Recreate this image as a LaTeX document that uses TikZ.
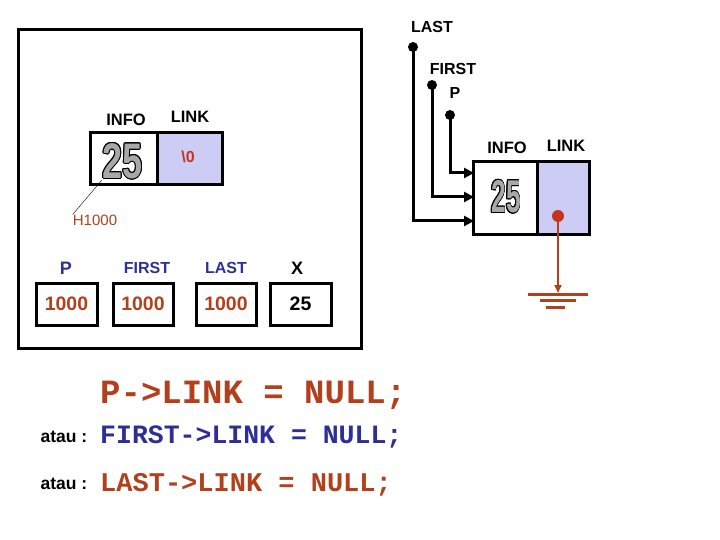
\documentclass[tikz,border=0pt]{standalone}
\usepackage{fontspec}
\setmainfont{Liberation Sans}
\newfontfamily\codefont{Liberation Mono}
\usepackage{contour}
\contourlength{0.9pt}
\usetikzlibrary{arrows.meta}
\definecolor{brn}{HTML}{B3401D}
\definecolor{blu}{HTML}{2E2E99}
\definecolor{lav}{HTML}{CCCCF5}
\definecolor{dotred}{HTML}{C8321E}
\definecolor{dgray}{HTML}{A8A8A8}
\tikzset{
  cell/.style={draw, line width=3pt, inner sep=0pt},
  lbl/.style={font=\fontsize{16}{18}\selectfont\bfseries, inner sep=0pt},
  val/.style={font=\fontsize{19.5}{21}\selectfont\bfseries, inner sep=0pt},
  big/.style={font=\fontsize{50}{50}\selectfont\bfseries, inner sep=0pt, xscale=0.72},
  pdot/.style={circle, fill=black, inner sep=0pt, minimum size=10pt},
  ptr/.style={line width=3pt, -{Triangle[length=10pt,width=10pt]}},
  code/.style={inner sep=0pt, anchor=west},
}
\begin{document}
\begin{tikzpicture}[x=1pt,y=-1pt]
\useasboundingbox[fill=white] (0,0) rectangle (720,540);

% memory frame
\draw[line width=3pt] (18,30) rectangle (361,348);

% left node
\node[cell, minimum width=67pt, minimum height=52pt] (linfo) at (123.5,159) {};
\node[cell, fill=lav, minimum width=65pt, minimum height=52pt] (llink) at (189.5,159) {};
\node[big, text=dgray] (l25) at (122.5,161.5) {\contour{black}{25}};
\node[lbl, text=dotred] (lnull) at (188,157) {\textbackslash 0};
\node[lbl, font=\fontsize{16.5}{18}\selectfont\bfseries] (linfolbl) at (126,120) {INFO};
\node[lbl, font=\fontsize{16.5}{18}\selectfont\bfseries] (llinklbl) at (190,117) {LINK};
\node[lbl, font=\fontsize{15}{17}\selectfont, text=brn] (h1000) at (95,220) {H1000};
\coordinate (haddr) at (102,180);
\draw[thin] (haddr) -- (h1000.north west);

% variables
\node[lbl, font=\fontsize{18}{20}\selectfont\bfseries, text=blu] (vP) at (66,268) {P};
\node[lbl, text=blu] (vF) at (147,268) {FIRST};
\node[lbl, text=blu] (vL) at (226,268) {LAST};
\node[lbl, font=\fontsize{18}{20}\selectfont\bfseries] (vX) at (297,268) {X};
\node[cell, val, text=brn, minimum width=61pt, minimum height=42pt] (bP) at (66.5,304) {1000};
\node[cell, val, text=brn, minimum width=60pt, minimum height=42pt] (bF) at (143,304) {1000};
\node[cell, val, text=brn, minimum width=60pt, minimum height=42pt] (bL) at (226,304) {1000};
\node[cell, val, minimum width=61pt, minimum height=42pt] (bX) at (300.5,304) {25};

% right node
\node[cell, minimum width=64pt, minimum height=72pt] (rinfo) at (505,198) {};
\node[cell, fill=lav, minimum width=52pt, minimum height=72pt] (rlink) at (563,198) {};
\node[big, font=\fontsize{46}{46}\selectfont\bfseries, xscale=0.8, text=dgray] (r25) at (506,197) {\contour{black}{25}};
\node[lbl, font=\fontsize{16.5}{18}\selectfont\bfseries] (rinfolbl) at (507,148) {INFO};
\node[lbl, font=\fontsize{16.5}{18}\selectfont\bfseries] (rlinklbl) at (566,146) {LINK};

% pointers
\node[lbl] (tLAST) at (432,27) {LAST};
\node[lbl] (tFIRST) at (453,69) {FIRST};
\node[lbl] (tP) at (455,93) {P};
\node[pdot] (dLAST) at (413,47) {};
\node[pdot] (dFIRST) at (432,85) {};
\node[pdot] (dP) at (450,115) {};
\coordinate (inP) at (474,173);
\coordinate (inF) at (474,197);
\coordinate (inL) at (474,221);
\draw[ptr] (dP.center) |- (inP);
\draw[ptr] (dFIRST.center) |- (inF);
\draw[ptr] (dLAST.center) |- (inL);

% null link to ground
\node[circle, fill=dotred, inner sep=0pt, minimum size=12pt] (rdot) at (558,216) {};
\coordinate (gnd) at (558,293);
\draw[brn, line width=2pt, -{Triangle[length=8pt,width=7pt]}] (rdot.center) -- (gnd);
\draw[brn, line width=3pt] (528,294) -- (588,294);
\draw[brn, line width=3pt] (540,300.5) -- (576,300.5);
\draw[brn, line width=3pt] (546,307) -- (565,307);

% code
\node[code, text=brn, font=\codefont\fontsize{34}{34}\selectfont\bfseries] (c1) at (100,395) {P->LINK = NULL;};
\node[lbl, font=\fontsize{17.5}{19}\selectfont\bfseries] (a1) at (64,437) {atau :};
\node[code, text=blu, font=\codefont\fontsize{26.5}{28}\selectfont\bfseries] (c2) at (100,437) {FIRST->LINK = NULL;};
\node[lbl, font=\fontsize{17.5}{19}\selectfont\bfseries] (a2) at (64,484) {atau :};
\node[code, text=brn, font=\codefont\fontsize{27}{28}\selectfont\bfseries] (c3) at (100,485) {LAST->LINK = NULL;};
\end{tikzpicture}
\end{document}
